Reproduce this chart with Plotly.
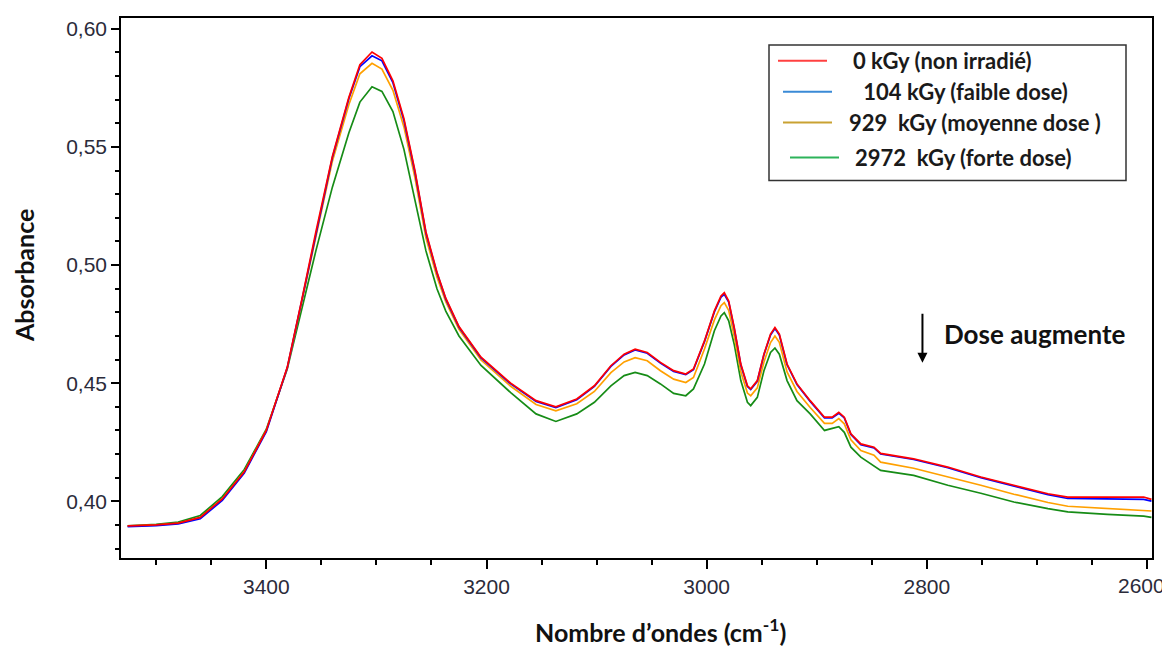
import plotly.graph_objects as go

# Wavenumbers (cm-1)
wavenumber = [3526, 3500, 3480, 3460, 3440, 3420, 3400, 3381, 3368, 3355, 3340, 3325, 3315, 3304,
              3295, 3285, 3275, 3265, 3255, 3245, 3237, 3225, 3205, 3178, 3155, 3137, 3118, 3102,
              3087, 3075, 3065, 3054, 3042, 3030, 3019, 3012, 3002, 2993, 2987, 2984, 2980, 2975,
              2969, 2963, 2960, 2954, 2948, 2942, 2938, 2934, 2927, 2918, 2906, 2893, 2886, 2880,
              2875, 2869, 2860, 2848, 2842, 2812, 2781, 2751, 2721, 2690, 2672, 2636, 2603, 2596]

abs_0kGy = [0.3896, 0.3900, 0.3908, 0.3932, 0.4010, 0.4125, 0.4300, 0.4567, 0.4848, 0.5140, 0.5460, 0.5710, 0.5848, 0.5902,
            0.5875, 0.5780, 0.5620, 0.5400, 0.5140, 0.4970, 0.4860, 0.4740, 0.4610, 0.4500, 0.4426, 0.4400, 0.4433, 0.4489,
            0.4574, 0.4623, 0.4644, 0.4630, 0.4588, 0.4553, 0.4539, 0.4560, 0.4679, 0.4806, 0.4869, 0.4883, 0.4848, 0.4736,
            0.4581, 0.4489, 0.4476, 0.4511, 0.4623, 0.4708, 0.4736, 0.4708, 0.4581, 0.4497, 0.4426, 0.4356, 0.4356, 0.4377,
            0.4356, 0.4286, 0.4243, 0.4229, 0.4203, 0.4180, 0.4145, 0.4103, 0.4068, 0.4032, 0.4018, 0.4018, 0.4018, 0.4008]

abs_104kGy = [0.3893, 0.3897, 0.3904, 0.3926, 0.4004, 0.4120, 0.4295, 0.4565, 0.4845, 0.5135, 0.5455, 0.5705, 0.5840, 0.5886,
              0.5865, 0.5772, 0.5612, 0.5393, 0.5135, 0.4966, 0.4856, 0.4737, 0.4607, 0.4497, 0.4423, 0.4397, 0.4430, 0.4486,
              0.4571, 0.4620, 0.4641, 0.4627, 0.4585, 0.4550, 0.4536, 0.4557, 0.4676, 0.4802, 0.4864, 0.4876, 0.4843, 0.4732,
              0.4577, 0.4486, 0.4473, 0.4508, 0.4620, 0.4704, 0.4731, 0.4704, 0.4578, 0.4494, 0.4423, 0.4353, 0.4353, 0.4373,
              0.4353, 0.4283, 0.4240, 0.4226, 0.4200, 0.4177, 0.4142, 0.4100, 0.4065, 0.4028, 0.4012, 0.4011, 0.4008, 0.4001]

abs_929kGy = [0.3895, 0.3899, 0.3907, 0.3931, 0.4010, 0.4125, 0.4300, 0.4563, 0.4840, 0.5125, 0.5440, 0.5680, 0.5810, 0.5854,
              0.5830, 0.5740, 0.5585, 0.5370, 0.5115, 0.4950, 0.4845, 0.4728, 0.4598, 0.4487, 0.4410, 0.4383, 0.4413, 0.4465,
              0.4545, 0.4590, 0.4608, 0.4595, 0.4553, 0.4517, 0.4503, 0.4524, 0.4645, 0.4768, 0.4828, 0.4841, 0.4808, 0.4700,
              0.4548, 0.4458, 0.4447, 0.4480, 0.4590, 0.4672, 0.4700, 0.4673, 0.4548, 0.4465, 0.4397, 0.4330, 0.4330, 0.4350,
              0.4328, 0.4260, 0.4215, 0.4195, 0.4166, 0.4140, 0.4105, 0.4068, 0.4030, 0.3995, 0.3979, 0.3970, 0.3962, 0.3959]

abs_2972kGy = [0.3896, 0.3902, 0.3912, 0.3940, 0.4020, 0.4135, 0.4305, 0.4560, 0.4810, 0.5060, 0.5330, 0.5560, 0.5690, 0.5755,
               0.5735, 0.5650, 0.5490, 0.5280, 0.5060, 0.4900, 0.4805, 0.4700, 0.4575, 0.4460, 0.4370, 0.4338, 0.4370, 0.4419,
               0.4489, 0.4532, 0.4546, 0.4532, 0.4497, 0.4457, 0.4447, 0.4476, 0.4581, 0.4722, 0.4785, 0.4799, 0.4764, 0.4665,
               0.4511, 0.4419, 0.4405, 0.4440, 0.4553, 0.4630, 0.4649, 0.4623, 0.4511, 0.4426, 0.4370, 0.4300, 0.4307, 0.4316,
               0.4292, 0.4229, 0.4187, 0.4150, 0.4131, 0.4110, 0.4068, 0.4034, 0.3997, 0.3969, 0.3955, 0.3945, 0.3937, 0.3932]

legend_labels = ["0 kGy (non irradié)", " 104 kGy (faible dose)", "929  kGy (moyenne dose )", "2972  kGy (forte dose)"]
line_colors = ["#ff0000", "#0000ff", "#ffa000", "#168c16"]
legend_colors = ["#ff4040", "#3a8ad6", "#c9a232", "#2db35a"]

x_ticks = [3400, 3200, 3000, 2800, 2600]
x_ticktext = ["3400", "3200", "3000", "2800", ""]   # last label drawn as annotation to keep it inside the page
y_ticks = [0.40, 0.45, 0.50, 0.55, 0.60]

fig = go.Figure()
series = [abs_2972kGy, abs_929kGy, abs_104kGy, abs_0kGy]
cols = [line_colors[3], line_colors[2], line_colors[1], line_colors[0]]
for s, c in zip(series, cols):
    fig.add_trace(go.Scatter(x=wavenumber, y=s, mode="lines", line=dict(color=c, width=1.7),
                             showlegend=False, hoverinfo="skip"))

# page has an 8px body margin; figure is sized to fit the window
OFF = 8
W, H = 1162, 638
L, R, T, B = 113, 18, 8, 88
pw, ph = W - L - R, H - T - B


def px(p):  # page pixel -> paper x
    return (p - OFF - L) / pw


def py(p):  # page pixel -> paper y
    return 1 - (p - OFF - T) / ph


tick_font = dict(family="Liberation Sans", size=21, color="#2b2b3a")

shapes = [dict(type="rect", xref="paper", yref="paper", x0=px(769), x1=px(1126), y0=py(179), y1=py(43),
               line=dict(color="#333333", width=1.5), fillcolor="white")]
annotations = []
leg_lines = [(778, 827, 59), (783, 832, 90), (783, 832, 121), (790, 839, 156)]
leg_text_x = [851, 856, 847, 853]
for (x0, x1, yy), tx, lab, col in zip(leg_lines, leg_text_x, legend_labels, legend_colors):
    shapes.append(dict(type="line", xref="paper", yref="paper", x0=px(x0), x1=px(x1), y0=py(yy), y1=py(yy),
                       line=dict(color=col, width=2)))
    annotations.append(dict(xref="paper", yref="paper", x=px(tx), y=py(yy), text="<b>" + lab.replace(" ", "&nbsp;") + "</b>",
                            showarrow=False, xanchor="left", yanchor="middle",
                            font=dict(family="Lato", size=22, color="#1a1a1a")))

annotations.append(dict(x=px(1167), y=py(586), xref="paper", yref="paper", text=str(x_ticks[-1]), showarrow=False,
                        xanchor="right", yanchor="middle", font=tick_font))
annotations.append(dict(x=2804, y=0.4587, ax=2804, ay=0.4800, xref="x", yref="y", axref="x", ayref="y",
                        text="", showarrow=True, arrowhead=2, arrowsize=1, arrowwidth=2, arrowcolor="black"))
annotations.append(dict(xref="paper", yref="paper", x=px(942), y=py(333), text="<b>Dose augmente</b>",
                        showarrow=False, xanchor="left", yanchor="middle",
                        font=dict(family="Lato", size=26, color="#111111")))
annotations.append(dict(xref="paper", yref="paper", x=px(660), y=py(631), text="<b>Nombre d’ondes (cm<sup>-1</sup>)</b>",
                        showarrow=False, xanchor="center", yanchor="middle",
                        font=dict(family="Lato", size=25, color="#111111")))
annotations.append(dict(xref="paper", yref="paper", x=px(24), y=py(275), text="<b>Absorbance</b>", textangle=-90,
                        showarrow=False, xanchor="center", yanchor="middle",
                        font=dict(family="Lato", size=25, color="#111111")))

fig.update_layout(
    width=W, height=H, margin=dict(l=L, r=R, t=T, b=B),
    paper_bgcolor="white", plot_bgcolor="white",
    separators=", ",
    shapes=shapes, annotations=annotations,
    xaxis=dict(range=[3532, 2595.5], tickvals=x_ticks, ticktext=x_ticktext, ticks="outside", ticklen=9, tickwidth=1.5,
               tickcolor="black", showline=True, linecolor="black", linewidth=2, mirror=True, showgrid=False,
               zeroline=False, tickfont=tick_font,
               minor=dict(dtick=50, tick0=2600, ticks="outside", ticklen=5, tickwidth=1.5, tickcolor="black")),
    yaxis=dict(range=[0.376, 0.6046], tickvals=y_ticks, tickformat=".2f", ticks="outside", ticklen=8, tickwidth=1.5,
               tickcolor="black", showline=True, linecolor="black", linewidth=1.5, mirror=True, showgrid=False,
               zeroline=False, tickfont=tick_font,
               minor=dict(dtick=0.01, tick0=0.40, ticks="outside", ticklen=4, tickwidth=1.5, tickcolor="black")),
)

fig.write_html("out.html")
